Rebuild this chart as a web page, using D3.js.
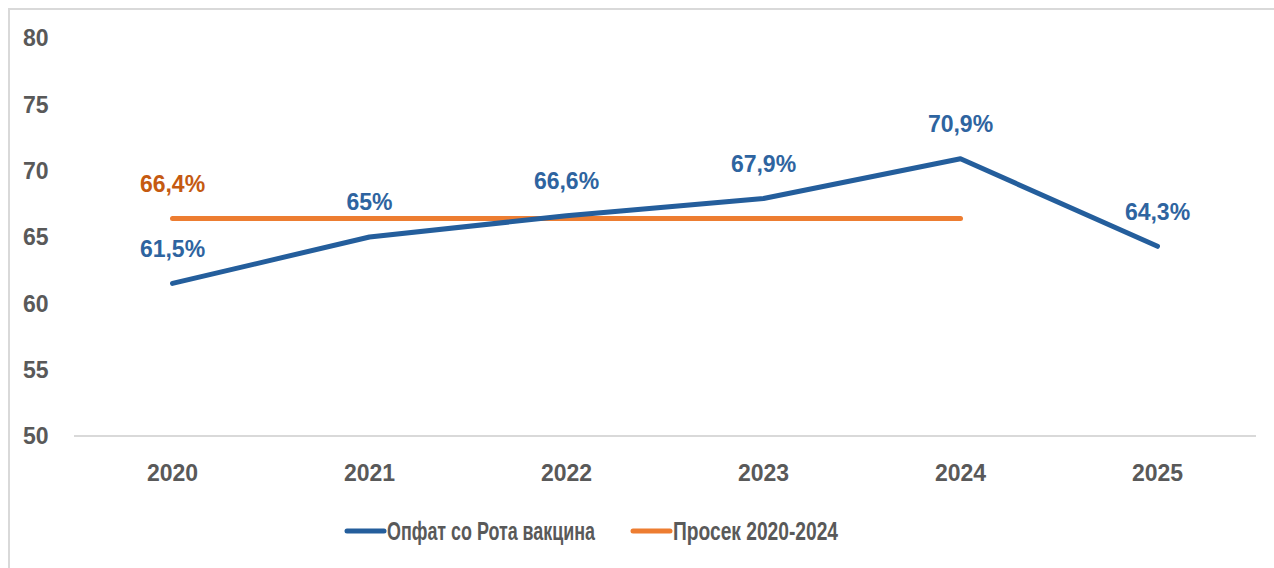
<!DOCTYPE html>
<html><head><meta charset="utf-8">
<script src="https://cdn.jsdelivr.net/npm/d3@7"></script>
<style>
html,body{margin:0;padding:0;background:#fff;}
svg{display:block;}
</style></head>
<body>
<svg id="c" width="1274" height="568"></svg>
<script>
const years = ["2020","2021","2022","2023","2024","2025"];
const coverage = [61.5, 65, 66.6, 67.9, 70.9, 64.3];
const coverageLabels = ["61,5%","65%","66,6%","67,9%","70,9%","64,3%"];
const average = [66.4, 66.4, 66.4, 66.4, 66.4, null];
const averageLabel = "66,4%";
const yTicks = [50, 55, 60, 65, 70, 75, 80];
const seriesNames = ["Опфат со Рота вакцина", "Просек 2020-2024"];

const svg = d3.select("#c");
const W = 1274, H = 568;
const blue = "#245E9C", orange = "#ED7D31", orangeText = "#C55A11", blueText = "#2E64A0", grey = "#595959";
const font = "'Liberation Sans', Arial, sans-serif";

// frame border
svg.append("rect").attr("x", 9).attr("y", 9).attr("width", W + 10).attr("height", H + 10)
  .attr("fill", "none").attr("stroke", "#d9d9d9").attr("stroke-width", 2);

const x = d3.scaleBand().domain(years).range([74, 1256]);
const y = d3.scaleLinear().domain([50, 80]).range([436, 38]);
const cx = d => x(d) + x.bandwidth() / 2;

// baseline
svg.append("line").attr("x1", 74).attr("x2", 1256).attr("y1", y(50)).attr("y2", y(50))
  .attr("stroke", "#d9d9d9").attr("stroke-width", 2);

// y tick labels
svg.append("g").selectAll("text").data(yTicks).join("text")
  .attr("x", 23).attr("y", d => y(d)).attr("dy", "0.36em")
  .attr("font-family", font).attr("font-weight", "bold").attr("font-size", 23)
  .attr("fill", grey).text(d => d);

// x labels
svg.append("g").selectAll("text").data(years).join("text")
  .attr("x", d => cx(d)).attr("y", 473).attr("dy", "0.36em").attr("text-anchor", "middle")
  .attr("font-family", font).attr("font-weight", "bold").attr("font-size", 23)
  .attr("fill", grey).text(d => d);

// average line
const avgLine = d3.line().defined(d => d[1] != null).x(d => cx(d[0])).y(d => y(d[1]));
svg.append("path").datum(years.map((yr, i) => [yr, average[i]]))
  .attr("d", avgLine).attr("fill", "none").attr("stroke", orange).attr("stroke-width", 5)
  .attr("stroke-linecap", "round");

// coverage line
const covLine = d3.line().x(d => cx(d[0])).y(d => y(d[1]));
svg.append("path").datum(years.map((yr, i) => [yr, coverage[i]]))
  .attr("d", covLine).attr("fill", "none").attr("stroke", blue).attr("stroke-width", 5)
  .attr("stroke-linecap", "round").attr("stroke-linejoin", "round");

// coverage labels
svg.append("g").selectAll("text").data(years).join("text")
  .attr("x", d => cx(d)).attr("y", (d, i) => y(coverage[i]) - 35).attr("dy", "0.36em")
  .attr("text-anchor", "middle").attr("font-family", font).attr("font-weight", "bold")
  .attr("font-size", 23).attr("fill", blueText).text((d, i) => coverageLabels[i]);

// average label
svg.append("text").attr("x", cx(years[0])).attr("y", y(average[0]) - 35).attr("dy", "0.36em")
  .attr("text-anchor", "middle").attr("font-family", font).attr("font-weight", "bold")
  .attr("font-size", 23).attr("fill", orangeText).text(averageLabel);

// legend
const leg = [{name: seriesNames[0], color: blue, x: 347, w: 208}, {name: seriesNames[1], color: orange, x: 633, w: 165}];
const lg = svg.append("g").selectAll("g").data(leg).join("g")
  .attr("transform", d => `translate(${d.x},531)`);
lg.append("line").attr("x1", 0).attr("x2", 37).attr("stroke", d => d.color)
  .attr("stroke-width", 5).attr("stroke-linecap", "round");
lg.append("text").attr("x", 40).attr("dy", "0.36em").attr("font-family", font)
  .attr("font-weight", "bold").attr("font-size", 25).attr("fill", grey)
  .attr("textLength", d => d.w).attr("lengthAdjust", "spacingAndGlyphs").text(d => d.name);
</script>
</body></html>
